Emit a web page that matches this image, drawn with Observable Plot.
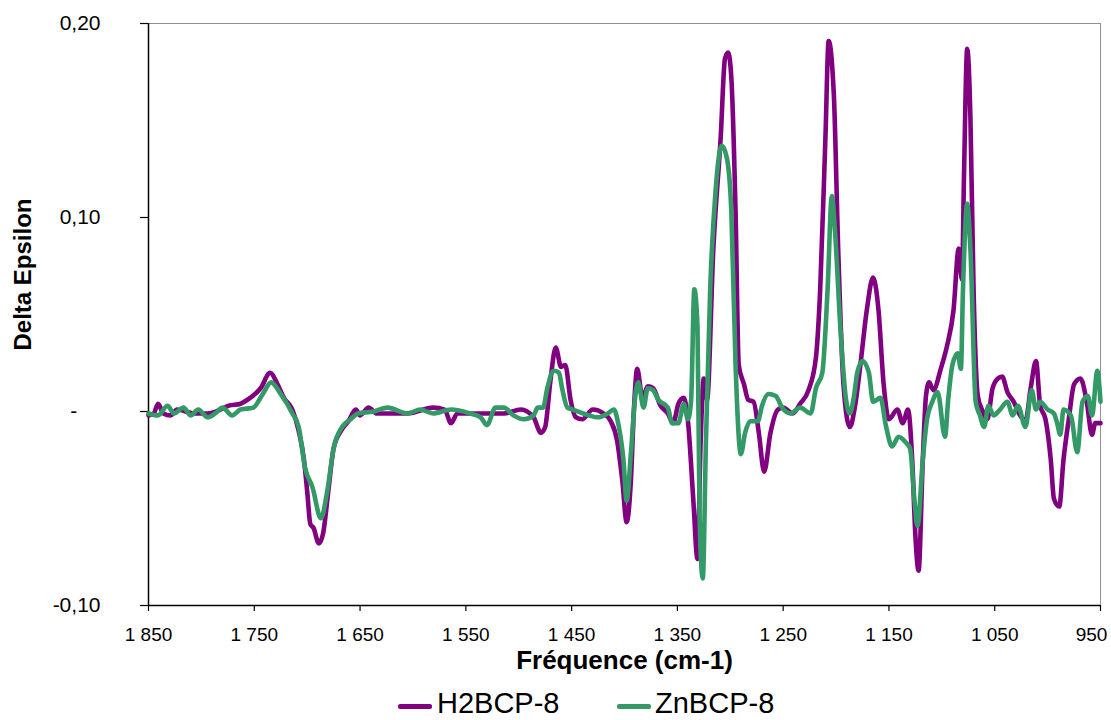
<!DOCTYPE html>
<html>
<head>
<meta charset="utf-8">
<script src="https://cdn.jsdelivr.net/npm/d3@7"></script>
<script src="https://cdn.jsdelivr.net/npm/@observablehq/plot@0.6"></script>
<style>
  html, body { margin: 0; padding: 0; background: white; }
  #wrap { position: relative; width: 1111px; height: 720px; font-family: "Liberation Sans", Arial, sans-serif; }
  #legend { position: absolute; left: 0; top: 680px; width: 1111px; height: 40px; }
  .sw { position: absolute; height: 5px; top: 24px; border-radius: 2px; }
  .lt { position: absolute; top: 6px; font-size: 29px; line-height: 34px; color: #000; }
</style>
</head>
<body>
<div id="wrap">
  <div id="chart"></div>
  <div id="legend"></div>
</div>
<script>
const seriesNames = ["H2BCP-8", "ZnBCP-8"];
const seriesColors = ["#800080", "#339966"];

const xTicks = [1850, 1750, 1650, 1550, 1450, 1350, 1250, 1150, 1050, 950];
const xTickLabels = ["1 850", "1 750", "1 650", "1 550", "1 450", "1 350", "1 250", "1 150", "1 050", "950"];
const yTicks = [-0.1, 0, 0.1, 0.2];
const yTickLabels = ["-0,10", "-\u00a0\u00a0\u00a0\u00a0", "0,10", "0,20"];

const h2Freq = [1850,1845,1841,1836,1829,1823,1807,1794,1782,1774,1763,1754,1744,1735,1728,1722,1714,1708,1703,1700,1697,1694,1689,1685,1680,1675,1668,1661,1654,1650,1642,1634,1605,1581,1570,1564,1558,1514,1498,1486,1479,1475,1470,1465,1460,1456,1451,1446,1440,1430,1420,1413,1407,1402,1398,1394,1391,1388,1383,1378,1373,1366,1359,1354,1349,1344,1340,1335,1331,1328,1325,1322,1316,1309,1305,1302,1299,1295,1292,1287,1283,1278,1273,1268,1262,1255,1250,1241,1234,1226,1219,1215,1210,1207,1202,1198,1193,1187,1182,1177,1171,1165,1160,1155,1150,1142,1137,1132,1128,1125,1122,1118,1115,1112,1108,1101,1095,1089,1084,1081,1079,1076,1073,1070,1066,1062,1057,1052,1047,1043,1038,1032,1026,1021,1016,1011,1007,1002,997,994,989,985,980,975,969,963,958,955,950];
const h2Val = [-0.002,-0.001,0.004,-0.001,-0.002,0.001,-0.001,-0.001,0.001,0.003,0.004,0.007,0.012,0.020,0.014,0.007,0.001,-0.010,-0.025,-0.041,-0.058,-0.060,-0.068,-0.063,-0.041,-0.019,-0.010,-0.005,0.001,-0.002,0.002,-0.001,-0.001,0.002,0.001,-0.006,-0.001,-0.001,0.001,-0.003,-0.011,-0.008,0.016,0.033,0.023,0.024,0.006,-0.003,-0.004,0.001,-0.001,-0.005,-0.015,-0.036,-0.057,-0.036,0.002,0.022,0.007,0.013,0.012,0.003,-0.001,-0.006,0.004,0.007,-0.005,-0.045,-0.076,-0.015,0.017,0.006,0.084,0.142,0.182,0.185,0.172,0.103,0.024,0.014,0.006,0.005,-0.011,-0.031,-0.011,0.001,0.002,-0.001,0.004,0.011,0.028,0.063,0.142,0.191,0.162,0.084,0.014,-0.008,0.003,0.024,0.052,0.069,0.053,0.014,-0.004,0.001,-0.006,0.001,-0.025,-0.064,-0.082,-0.025,0.008,0.015,0.011,0.022,0.034,0.052,0.084,0.068,0.123,0.187,0.152,0.063,0.008,0.001,-0.004,0.012,0.017,0.018,0.010,0.005,-0.002,-0.005,0.012,0.026,0.003,-0.004,-0.025,-0.045,-0.049,-0.025,-0.004,0.014,0.017,0.005,-0.012,-0.006,-0.006];

const znFreq = [1850,1841,1832,1826,1817,1810,1803,1794,1787,1780,1771,1763,1751,1742,1734,1725,1714,1708,1702,1695,1687,1681,1675,1667,1659,1652,1637,1624,1605,1593,1581,1564,1546,1536,1530,1522,1514,1505,1495,1486,1482,1477,1473,1467,1462,1459,1454,1449,1439,1425,1416,1410,1406,1401,1398,1394,1390,1387,1382,1378,1373,1368,1359,1355,1349,1344,1340,1337,1334,1331,1329,1326,1323,1319,1314,1308,1303,1299,1295,1290,1286,1281,1274,1270,1264,1257,1251,1243,1234,1224,1219,1213,1208,1204,1201,1196,1191,1187,1183,1180,1175,1169,1165,1158,1153,1147,1141,1134,1130,1126,1123,1118,1114,1109,1104,1097,1094,1090,1085,1082,1080,1076,1073,1068,1064,1060,1056,1051,1045,1038,1033,1028,1021,1015,1011,1007,1000,994,991,988,985,978,972,967,962,958,953,950];
const znVal = [-0.001,-0.002,0.003,-0.001,0.002,-0.002,0.001,-0.003,-0.001,0.002,-0.002,0.001,0.002,0.009,0.015,0.009,-0.001,-0.008,-0.029,-0.039,-0.055,-0.041,-0.019,-0.008,-0.004,-0.001,0,0.002,-0.001,0.001,-0.001,0.001,-0.001,-0.003,-0.007,0.002,0.002,-0.002,-0.004,-0.002,0.002,0.002,0.012,0.021,0.020,0.012,0.002,0.001,-0.001,-0.003,-0.001,0.001,-0.006,-0.025,-0.046,-0.022,0.007,0.015,0.002,0.012,0.011,0.006,0.002,-0.006,-0.006,0.004,-0.004,0.006,0.063,0.044,-0.055,-0.086,-0.015,0.063,0.113,0.137,0.130,0.103,0.024,-0.022,-0.011,-0.005,-0.005,0.003,0.009,0.008,0.002,-0.001,0.002,-0.001,0.012,0.020,0.063,0.111,0.093,0.044,0.008,-0.001,0.008,0.020,0.026,0.020,0.005,0.007,-0.007,-0.018,-0.013,-0.016,-0.019,-0.045,-0.059,-0.025,-0.004,0.005,0.010,-0.013,0.006,0.024,0.030,0.022,0.063,0.107,0.084,0.005,-0.002,-0.008,0.003,-0.002,0.001,0.005,-0.002,0.003,-0.008,0.011,0.001,0.005,0.001,-0.001,-0.006,-0.012,0.001,-0.002,-0.021,0.005,0.008,-0.002,0.021,0.005];

const data = [
  ...h2Freq.map((f, i) => ({series: seriesNames[0], freq: f, val: h2Val[i]})),
  ...znFreq.map((f, i) => ({series: seriesNames[1], freq: f, val: znVal[i]}))
];

const lastTick = xTicks[xTicks.length - 1];
const xLabel = d => xTickLabels[xTicks.indexOf(d)];

const chart = Plot.plot({
  width: 1111,
  height: 680,
  marginLeft: 148,
  marginRight: 11,
  marginTop: 23,
  marginBottom: 75,
  style: {fontFamily: "'Liberation Sans', Arial, sans-serif", background: "white", color: "black"},
  x: {domain: [1850, 950]},
  y: {domain: [-0.1, 0.2]},
  color: {domain: seriesNames, range: seriesColors},
  marks: [
    Plot.frame({stroke: "#909090", strokeWidth: 1}),
    Plot.axisX({ticks: xTicks, tickFormat: d => d === lastTick ? "" : xLabel(d), tickSize: 6, tickPadding: 16, fontSize: 19, label: null, stroke: "black", strokeWidth: 1.2}),
    Plot.axisX({ticks: [lastTick], tickFormat: xLabel, tickSize: 0, tickPadding: 22, dx: -9, fontSize: 19, label: null}),
    Plot.axisY({ticks: yTicks, tickFormat: d => yTickLabels[yTicks.findIndex(t => Math.abs(t - d) < 1e-9)], tickSize: 8, tickPadding: 40, fontSize: 21, label: null, stroke: "black", strokeWidth: 1.2}),
    Plot.ruleY([-0.1], {stroke: "black", strokeWidth: 1.5}),
    Plot.ruleX([1850], {stroke: "black", strokeWidth: 1.5}),
    Plot.line(data.filter(d => d.series === seriesNames[0]), {x: "freq", y: "val", stroke: "series", strokeWidth: 4.6, curve: "monotone-x"}),
    Plot.line(data.filter(d => d.series === seriesNames[1]), {x: "freq", y: "val", stroke: "series", strokeWidth: 4.6, curve: "monotone-x"}),
    Plot.text(["Fréquence (cm-1)"], {frameAnchor: "bottom", dy: 63, fontSize: 26, fontWeight: "bold", fill: "black"}),
    Plot.text(["Delta Epsilon"], {frameAnchor: "left", textAnchor: "middle", dx: -125, dy: -40, rotate: -90, fontSize: 24, fontWeight: "bold", fill: "black"})
  ]
});
document.getElementById("chart").appendChild(chart);

const legend = document.getElementById("legend");
const legendPos = [{sw: 398, tx: 437}, {sw: 617, tx: 655}];
seriesNames.forEach((name, i) => {
  const sw = document.createElement("div");
  sw.className = "sw";
  sw.style.left = legendPos[i].sw + "px";
  sw.style.width = "34px";
  sw.style.background = seriesColors[i];
  legend.appendChild(sw);
  const t = document.createElement("div");
  t.className = "lt";
  t.style.left = legendPos[i].tx + "px";
  t.textContent = name;
  legend.appendChild(t);
});
</script>
</body>
</html>
